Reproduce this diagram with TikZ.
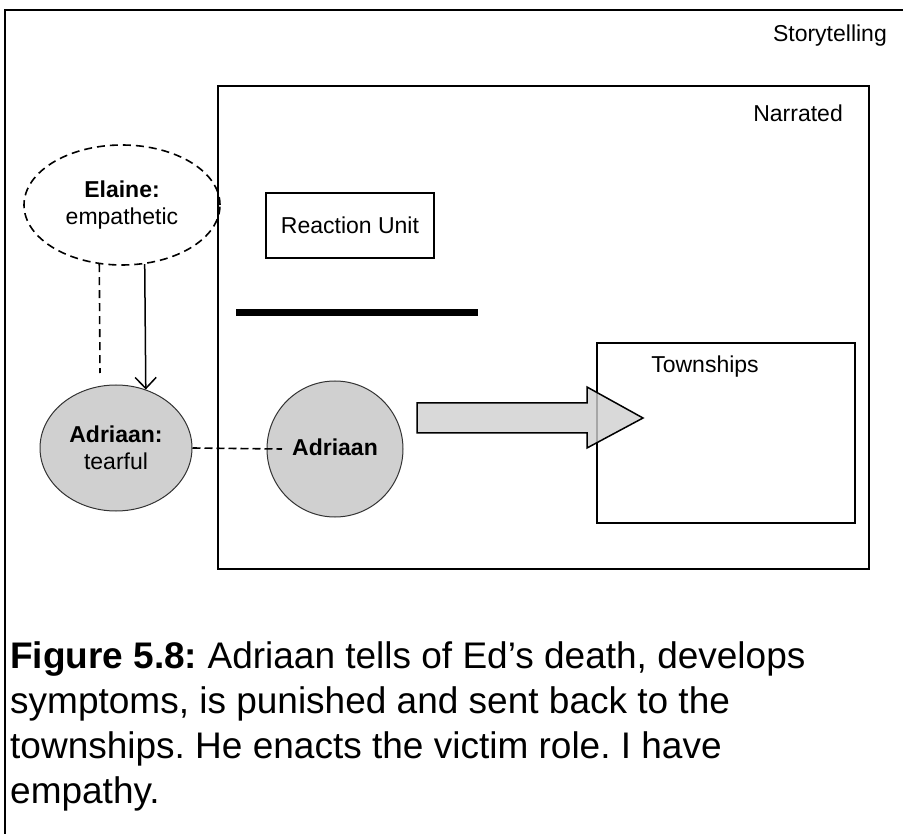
\documentclass[tikz,border=0pt]{standalone}
\usepackage{fontspec}
\setmainfont{Liberation Sans}
\usetikzlibrary{shapes.geometric,arrows.meta}
\definecolor{lgray}{RGB}{208,208,208}
\frenchspacing
\tikzset{
  lab/.style={font=\fontsize{23}{27}\selectfont, inner sep=0pt, align=center},
  captext/.style={font=\fontsize{37}{45}\selectfont, inner sep=0pt, anchor=base west},
  boxline/.style={draw, line width=2pt},
  dashline/.style={line width=1.6pt, dash pattern=on 8pt off 5pt},
  greyshape/.style={draw=black!80, line width=1pt, fill=lgray, inner sep=0pt, align=center,
    font=\fontsize{23}{27}\selectfont}
}
\begin{document}
\begin{tikzpicture}[x=1pt,y=-1pt]
\useasboundingbox (0,0) rectangle (903,834);
\clip (0,0) rectangle (903,834);
% outer frame
\draw[line width=2pt] (5,860) -- (5,10) -- (930,10);
\node[lab, anchor=east] (story) at (887,36) {Storytelling};
% narrated box
\node[boxline, minimum width=651pt, minimum height=483pt, inner sep=0pt] (narr) at (543.5,327.5) {};
\node[lab, anchor=east] (narrlab) at (843,113) {Narrated};
% reaction unit
\node[boxline, line width=1.5pt, minimum width=168pt, minimum height=65pt, lab] (react) at (350,225.5) {Reaction Unit};
% thick line
\draw[line width=7pt] (236,313) -- (478,313);
% townships
\node[boxline, line width=1.5pt, minimum width=258pt, minimum height=180pt, inner sep=0pt] (town) at (726,433) {};
\node[lab] (townlab) at (705,367) {Townships};
% Elaine
\node[ellipse, draw, dashline, minimum width=196pt, minimum height=120pt, inner sep=0pt, lab] (elaine) at (122,205) {\textbf{Elaine:}\\empathetic};
% Adriaan tearful
\node[ellipse, greyshape, minimum width=152pt, minimum height=126pt] (adt) at (116,448) {\textbf{Adriaan:}\\tearful};
% Adriaan circle
\node[circle, greyshape, minimum size=136pt] (adr) at (335,449) {\raisebox{3pt}{\textbf{Adriaan}}};
% connectors
\coordinate (dend1) at (100,373);
\draw[dashline] (elaine.249) -- (dend1);
\draw[line width=1.5pt, -{Straight Barb[length=11pt,width=21pt]}] (elaine.291) -- (adt.63.5);
\coordinate (dend2) at (282,449);
\draw[dashline, dash pattern=on 8pt off 4pt] (adt.east) -- (dend2);
% block arrow
\draw[fill=lgray, fill opacity=0.8, line width=1.5pt, line join=miter]
  (417,403) -- (587,403) -- (587,387) -- (643,418) -- (587,448) -- (587,433) -- (417,433) -- cycle;
% caption
\node[captext] (cap1) at (10,668) {\textbf{Figure 5.8:} Adriaan tells of Ed’s death, develops};
\node[captext] (cap2) at (10,713) {symptoms, is punished and sent back to the};
\node[captext] (cap3) at (10,758) {townships. He enacts the victim role. I have};
\node[captext] (cap4) at (10,803) {empathy.};
\end{tikzpicture}
\end{document}
